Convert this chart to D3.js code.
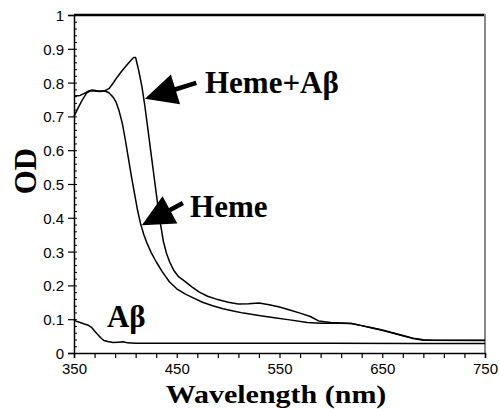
<!DOCTYPE html>
<html>
<head>
<meta charset="utf-8">
<script src="https://cdn.jsdelivr.net/npm/d3@7"></script>
<style>
  body { margin: 0; background: #fff; }
  svg { display: block; }
  .tick text { font-family: "Liberation Sans", Arial, sans-serif; font-size: 15px; fill: #000; }
  .title { font-family: "Liberation Serif", "Times New Roman", serif; font-weight: bold; fill: #000; }
</style>
</head>
<body>
<div id="chart"></div>
<script>
// spectra: [wavelength (nm), OD]
var hemeAb = [
  [350, 0.760], [356, 0.762], [360, 0.768], [364, 0.775], [368, 0.778], [372, 0.776],
  [376, 0.775], [380, 0.776], [384, 0.782], [388, 0.798], [392, 0.816], [396, 0.832],
  [400, 0.847], [404, 0.861], [408, 0.874], [410, 0.874], [413, 0.835], [416, 0.790],
  [419, 0.730], [422, 0.660], [425, 0.590], [428, 0.520], [431, 0.450], [434, 0.385],
  [437, 0.330], [440, 0.295], [443, 0.270], [447, 0.245], [452, 0.225], [458, 0.212],
  [465, 0.195], [472, 0.180], [480, 0.168], [490, 0.158], [500, 0.150], [510, 0.145],
  [520, 0.146], [530, 0.148], [540, 0.143], [550, 0.136], [560, 0.127], [570, 0.118],
  [580, 0.108], [588, 0.095], [600, 0.090], [610, 0.089], [620, 0.087], [630, 0.081],
  [640, 0.075], [650, 0.068], [660, 0.060], [670, 0.052], [680, 0.044], [690, 0.039],
  [700, 0.038], [750, 0.038]
];

var heme = [
  [350, 0.700], [354, 0.725], [358, 0.748], [362, 0.768], [366, 0.776], [370, 0.775],
  [375, 0.774], [380, 0.775], [384, 0.770], [388, 0.757], [391, 0.742], [394, 0.715],
  [397, 0.680], [400, 0.630], [403, 0.575], [406, 0.520], [409, 0.470], [412, 0.420],
  [415, 0.380], [418, 0.350], [421, 0.325], [425, 0.298], [430, 0.270], [436, 0.240],
  [443, 0.210], [450, 0.190], [458, 0.175], [466, 0.163], [475, 0.150], [485, 0.140],
  [495, 0.131], [505, 0.124], [515, 0.118], [530, 0.111], [545, 0.104], [560, 0.098],
  [577, 0.090], [590, 0.088], [610, 0.088], [620, 0.087], [630, 0.081], [640, 0.074],
  [650, 0.067], [660, 0.059], [670, 0.051], [680, 0.043], [690, 0.038], [750, 0.037]
];

var abeta = [
  [350, 0.097], [353, 0.093], [356, 0.090], [360, 0.086], [364, 0.082], [367, 0.076],
  [370, 0.065], [373, 0.055], [376, 0.045], [379, 0.037], [383, 0.034], [388, 0.031],
  [393, 0.032], [398, 0.033], [402, 0.030], [410, 0.029], [500, 0.029], [600, 0.029],
  [680, 0.028], [750, 0.028]
];

var xTicks = d3.range(350, 751, 20);
var xLabels = [350, 450, 550, 650, 750];
var yTicks = d3.range(0, 11).map(function (i) { return i / 10; });
var yMinor = d3.range(0, 51).map(function (i) { return i / 50; });

// label text, anchor point in data units
var labels = [
  { text: "Heme+A\u03b2", x: 477.5, y: 0.769 },
  { text: "Heme", x: 463, y: 0.402 },
  { text: "A\u03b2", x: 382, y: 0.077 }
];
// arrows: tip and tail in data units
var arrows = [
  { tip: [419, 0.752], tail: [469, 0.799] },
  { tip: [416, 0.378], tail: [456, 0.444] }
];

var width = 500, height = 409;
var margin = { top: 15, right: 15, bottom: 56, left: 74 };

var svg = d3.select('#chart').append('svg').attr('width', width).attr('height', height);

var x = d3.scaleLinear().domain([350, 750]).range([margin.left, width - margin.right]);
var y = d3.scaleLinear().domain([0, 1]).range([height - margin.bottom, margin.top]);

// frame: top black, right gray
svg.append('line')
   .attr('x1', x(350)).attr('x2', x(750)).attr('y1', y(1)).attr('y2', y(1))
   .attr('stroke', '#000').attr('stroke-width', 2.3);
svg.append('line')
   .attr('x1', x(750)).attr('x2', x(750)).attr('y1', y(1) - 1).attr('y2', y(0))
   .attr('stroke', '#888').attr('stroke-width', 2);

// x axis
var xAxis = d3.axisBottom(x)
    .tickValues(xTicks)
    .tickSize(5)
    .tickPadding(5)
    .tickFormat(function (d) { return xLabels.indexOf(d) >= 0 ? d : ''; });
var gx = svg.append('g').attr('transform', 'translate(0,' + y(0) + ')').call(xAxis);
gx.select('.domain').attr('stroke-width', 1.5);
gx.selectAll('.tick line').attr('stroke-width', 1.2);

// y axis: major ticks outside, minor inside
var yAxis = d3.axisLeft(y)
    .tickValues(yTicks)
    .tickSize(6)
    .tickPadding(4)
    .tickFormat(function (d) { return d === 0 ? '0' : d === 1 ? '1' : d.toFixed(1); });
var gy = svg.append('g').attr('transform', 'translate(' + x(350) + ',0)').call(yAxis);
gy.select('.domain').attr('stroke-width', 1.5);
gy.selectAll('.tick line').attr('stroke-width', 1.2);
gy.selectAll('.tick text').attr('dy', '0.36em');

var gm = svg.append('g').attr('transform', 'translate(' + x(350) + ',0)')
    .call(d3.axisRight(y).tickValues(yMinor).tickSize(3).tickFormat(''));
gm.select('.domain').remove();
gm.selectAll('.tick line').attr('stroke-width', 1);

// spectra
var line = d3.line()
    .x(function (d) { return x(d[0]); })
    .y(function (d) { return y(d[1]); });

[hemeAb, heme, abeta].forEach(function (s) {
  svg.append('path')
     .datum(s)
     .attr('d', line)
     .attr('fill', 'none')
     .attr('stroke', '#000')
     .attr('stroke-width', 1.5)
     .attr('stroke-linejoin', 'round');
});

// arrows
arrows.forEach(function (a) {
  var tx = x(a.tip[0]), ty = y(a.tip[1]);
  var ex = x(a.tail[0]), ey = y(a.tail[1]);
  var len = Math.sqrt((ex - tx) * (ex - tx) + (ey - ty) * (ey - ty));
  var ux = (ex - tx) / len, uy = (ey - ty) / len;
  var headLen = 32, headHalf = 15.5;
  var bx = tx + ux * headLen, by = ty + uy * headLen;
  var px = -uy, py = ux;
  svg.append('path')
     .attr('d', 'M' + tx + ',' + ty +
                'L' + (bx + px * headHalf) + ',' + (by + py * headHalf) +
                'L' + (bx - px * headHalf) + ',' + (by - py * headHalf) + 'Z')
     .attr('fill', '#000');
  svg.append('line')
     .attr('x1', bx - ux * 3).attr('y1', by - uy * 3)
     .attr('x2', ex).attr('y2', ey)
     .attr('stroke', '#000').attr('stroke-width', 4.5);
});

// labels
labels.forEach(function (l) {
  svg.append('text')
     .attr('class', 'title')
     .attr('x', x(l.x)).attr('y', y(l.y))
     .attr('font-size', '31px')
     .text(l.text);
});

// axis titles (x title a little squashed vertically, as in the scan)
svg.append('text')
   .attr('class', 'title')
   .attr('transform', 'translate(276,403) scale(1,0.85)')
   .attr('text-anchor', 'middle')
   .attr('font-size', '30px')
   .text('Wavelength (nm)');

svg.append('text')
   .attr('class', 'title')
   .attr('transform', 'translate(36,171) rotate(-90)')
   .attr('text-anchor', 'middle')
   .attr('font-size', '31px')
   .text('OD');
</script>
</body>
</html>
